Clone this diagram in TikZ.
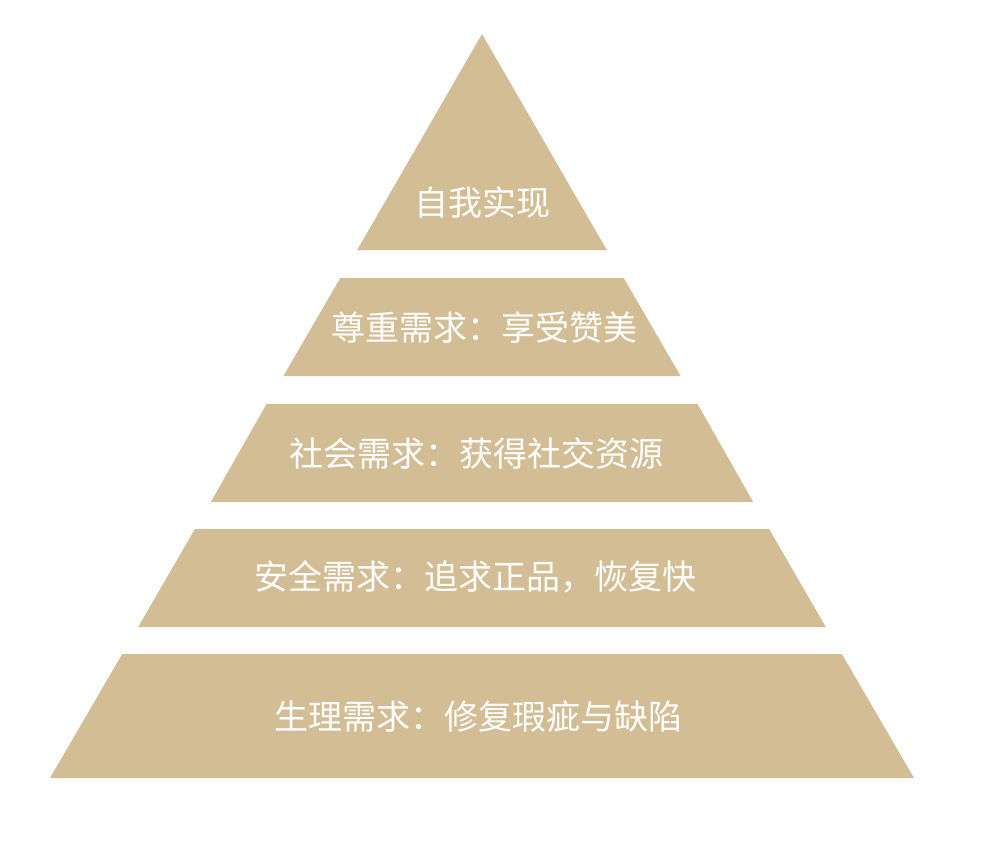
\documentclass[tikz,border=0pt]{standalone}
\usepackage{fontspec}
\newfontfamily\cjk{Noto Sans CJK SC}
\definecolor{tan}{RGB}{210,189,148}
\begin{document}
\begin{tikzpicture}[x=1pt,y=-1pt,
  layer/.style={fill=tan,draw=none},
  lbl/.style={text=white,font=\cjk\fontsize{34}{38}\selectfont,inner sep=0pt,anchor=center}]
\useasboundingbox (0,0) rectangle (984,846);
\fill[white] (0,0) rectangle (984,846);
\fill[layer] (482,34) -- (606.8,250) -- (357.2,250) -- cycle;
\fill[layer] (340.3,278) -- (623.7,278) -- (680.6,376) -- (283.4,376) -- cycle;
\fill[layer] (266.5,404) -- (697.5,404) -- (753.2,502) -- (210.8,502) -- cycle;
\fill[layer] (194.9,529) -- (769.1,529) -- (825.8,627) -- (138.2,627) -- cycle;
\fill[layer] (122.2,654) -- (841.8,654) -- (914,778) -- (50,778) -- cycle;
\node[lbl] (l1) at (482,203) {自我实现};
\node[lbl] (l2) at (484,327) {尊重需求：享受赞美};
\node[lbl] (l3) at (476,453) {社会需求：获得社交资源};
\node[lbl] (l4) at (475,577) {安全需求：追求正品，恢复快};
\node[lbl] (l5) at (478,717) {生理需求：修复瑕疵与缺陷};
\end{tikzpicture}
\end{document}
